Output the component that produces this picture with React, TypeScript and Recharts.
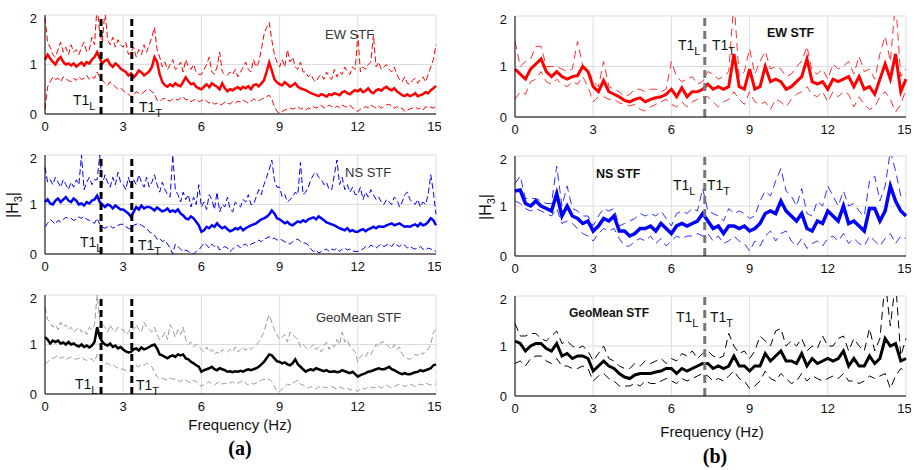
import React from "react";
import {
  LineChart,
  Line,
  XAxis,
  YAxis,
  CartesianGrid,
  ReferenceLine,
} from "recharts";

// (a) panels are sampled finer than (b)
const freqA = [
  0, 0.1, 0.2, 0.3, 0.4, 0.5, 0.6, 0.7, 0.8, 0.9,
  1, 1.1, 1.2, 1.3, 1.4, 1.5, 1.6, 1.7, 1.8, 1.9,
  2, 2.1, 2.2, 2.3, 2.4, 2.5, 2.6, 2.7, 2.8, 2.9,
  3, 3.1, 3.2, 3.3, 3.4, 3.5, 3.6, 3.7, 3.8, 3.9,
  4, 4.1, 4.2, 4.3, 4.4, 4.5, 4.6, 4.7, 4.8, 4.9,
  5, 5.1, 5.2, 5.3, 5.4, 5.5, 5.6, 5.7, 5.8, 5.9,
  6, 6.1, 6.2, 6.3, 6.4, 6.5, 6.6, 6.7, 6.8, 6.9,
  7, 7.1, 7.2, 7.3, 7.4, 7.5, 7.6, 7.7, 7.8, 7.9,
  8, 8.1, 8.2, 8.3, 8.4, 8.5, 8.6, 8.7, 8.8, 8.9,
  9, 9.1, 9.2, 9.3, 9.4, 9.5, 9.6, 9.7, 9.8, 9.9,
  10, 10.1, 10.2, 10.3, 10.4, 10.5, 10.6, 10.7, 10.8, 10.9,
  11, 11.1, 11.2, 11.3, 11.4, 11.5, 11.6, 11.7, 11.8, 11.9,
  12, 12.1, 12.2, 12.3, 12.4, 12.5, 12.6, 12.7, 12.8, 12.9,
  13, 13.1, 13.2, 13.3, 13.4, 13.5, 13.6, 13.7, 13.8, 13.9,
  14, 14.1, 14.2, 14.3, 14.4, 14.5, 14.6, 14.7, 14.8, 14.9,
  15,
];

const freqB = [
  0, 0.2, 0.4, 0.6, 0.8, 1, 1.2, 1.4, 1.6, 1.8,
  2, 2.2, 2.4, 2.6, 2.8, 3, 3.2, 3.4, 3.6, 3.8,
  4, 4.2, 4.4, 4.6, 4.8, 5, 5.2, 5.4, 5.6, 5.8,
  6, 6.2, 6.4, 6.6, 6.8, 7, 7.2, 7.4, 7.6, 7.8,
  8, 8.2, 8.4, 8.6, 8.8, 9, 9.2, 9.4, 9.6, 9.8,
  10, 10.2, 10.4, 10.6, 10.8, 11, 11.2, 11.4, 11.6, 11.8,
  12, 12.2, 12.4, 12.6, 12.8, 13, 13.2, 13.4, 13.6, 13.8,
  14, 14.2, 14.4, 14.6, 14.8, 15,
];

const xTicks = [0, 3, 6, 9, 12, 15];
const yTicks = [0, 1, 2];

// fundamental periods
const t1A = [2.15, 3.33];
const t1B = [7.28];

// (a) EW
const ewAMean = [
  1.10, 1.20, 1.12, 1.05, 1.00, 1.10, 1.15, 1.05, 1.00, 1.02,
  0.98, 1.02, 0.96, 1.00, 1.04, 0.98, 1.05, 1.02, 1.10, 1.15,
  1.25, 1.12, 1.02, 1.08, 1.10, 1.00, 0.95, 1.02, 0.98, 0.92,
  0.88, 0.85, 0.78, 0.82, 0.74, 0.80, 0.88, 0.84, 0.78, 0.82,
  0.86, 0.95, 1.15, 1.05, 0.80, 0.65, 0.58, 0.55, 0.60, 0.56,
  0.62, 0.58, 0.56, 0.65, 0.74, 0.66, 0.60, 0.62, 0.55, 0.52,
  0.50, 0.55, 0.60, 0.54, 0.62, 0.58, 0.55, 0.50, 0.62, 0.52,
  0.46, 0.50, 0.48, 0.52, 0.54, 0.50, 0.55, 0.52, 0.56, 0.50,
  0.58, 0.60, 0.56, 0.62, 0.68, 0.85, 1.04, 0.88, 0.70, 0.64,
  0.60, 0.58, 0.64, 0.60, 0.55, 0.58, 0.62, 0.55, 0.52, 0.50,
  0.48, 0.45, 0.42, 0.40, 0.38, 0.36, 0.40, 0.38, 0.35, 0.40,
  0.38, 0.42, 0.40, 0.38, 0.44, 0.46, 0.42, 0.40, 0.45, 0.48,
  0.46, 0.50, 0.44, 0.47, 0.52, 0.45, 0.42, 0.48, 0.50, 0.47,
  0.52, 0.55, 0.50, 0.48, 0.52, 0.46, 0.42, 0.38, 0.36, 0.40,
  0.36, 0.38, 0.42, 0.36, 0.38, 0.40, 0.44, 0.42, 0.48, 0.52,
  0.57,
];
const ewAHi = [
  1.95, 1.45, 1.35, 1.20, 1.15, 1.30, 1.45, 1.25, 1.35, 1.20,
  1.40, 1.25, 1.30, 1.20, 1.35, 1.45, 1.25, 1.30, 1.55, 1.40,
  2.20, 1.60, 1.45, 2.10, 1.50, 1.40, 1.55, 1.35, 1.50, 1.40,
  1.35, 1.45, 1.20, 1.25, 1.35, 1.15, 1.30, 1.20, 1.40, 1.25,
  1.40, 1.55, 1.75, 1.30, 1.15, 0.95, 1.05, 0.90, 1.00, 1.10,
  0.90, 0.95, 1.05, 0.85, 1.10, 0.95, 0.90, 1.00, 0.85, 0.80,
  0.80, 0.90, 1.00, 1.15, 0.85, 0.80, 0.95, 1.25, 0.85, 0.80,
  0.78, 0.85, 0.80, 0.90, 0.75, 0.85, 0.95, 1.05, 0.90, 0.85,
  1.10, 0.95, 1.05, 1.30, 1.60, 1.75, 1.85, 1.50, 1.20, 1.05,
  0.95, 1.10, 0.95, 1.30, 1.05, 1.15, 0.95, 0.90, 1.05, 0.85,
  0.85, 0.75, 0.80, 0.70, 0.65, 0.75, 0.80, 0.70, 0.85, 0.75,
  0.70, 0.90, 0.75, 0.85, 0.80, 0.95, 0.85, 0.80, 0.95, 0.90,
  1.60, 0.85, 0.95, 0.90, 1.00, 1.05, 1.60, 0.95, 1.05, 0.90,
  0.95, 1.00, 0.90, 0.85, 0.95, 0.80, 0.70, 0.65, 0.75, 0.62,
  0.60, 0.68, 0.72, 0.62, 0.70, 0.75, 0.65, 0.80, 0.95, 1.10,
  1.40,
];
const ewALo = [
  0.10, 0.55, 0.65, 0.75, 0.70, 0.72, 0.65, 0.75, 0.70, 0.68,
  0.65, 0.72, 0.68, 0.75, 0.70, 0.72, 0.78, 0.70, 0.75, 0.72,
  0.85, 0.75, 0.68, 0.62, 0.58, 0.65, 0.60, 0.55, 0.50, 0.52,
  0.48, 0.42, 0.40, 0.35, 0.38, 0.45, 0.42, 0.40, 0.45, 0.48,
  0.50, 0.45, 0.42, 0.28, 0.25, 0.30, 0.32, 0.28, 0.26, 0.30,
  0.30, 0.28, 0.32, 0.35, 0.28, 0.30, 0.25, 0.28, 0.30, 0.25,
  0.27, 0.30, 0.26, 0.22, 0.25, 0.20, 0.22, 0.18, 0.20, 0.24,
  0.22, 0.20, 0.25, 0.22, 0.26, 0.24, 0.28, 0.25, 0.22, 0.26,
  0.30, 0.28, 0.26, 0.30, 0.32, 0.35, 0.38, 0.30, 0.15, 0.05,
  0.02, 0.05, 0.08, 0.10, 0.12, 0.10, 0.12, 0.15, 0.10, 0.12,
  0.08, 0.12, 0.10, 0.15, 0.12, 0.14, 0.18, 0.12, 0.15, 0.18,
  0.15, 0.12, 0.16, 0.12, 0.18, 0.15, 0.14, 0.18, 0.12, 0.10,
  0.05, 0.10, 0.12, 0.15, 0.12, 0.18, 0.15, 0.12, 0.16, 0.12,
  0.15, 0.18, 0.20, 0.15, 0.12, 0.15, 0.10, 0.12, 0.05, 0.08,
  0.10, 0.12, 0.15, 0.10, 0.12, 0.08, 0.15, 0.12, 0.14, 0.12,
  0.15,
];

// (a) NS
const nsAMean = [
  1.05, 1.10, 1.02, 1.00, 1.08, 1.12, 1.05, 1.10, 1.15, 1.08,
  1.05, 1.12, 1.08, 1.00, 1.02, 0.98, 1.05, 1.02, 1.08, 1.10,
  1.18, 1.05, 1.00, 0.95, 1.00, 0.98, 0.92, 0.98, 0.94, 0.90,
  0.90, 0.86, 0.82, 0.75, 0.85, 0.95, 0.90, 0.98, 0.92, 0.95,
  0.95, 0.92, 0.88, 0.94, 0.90, 0.86, 0.88, 0.92, 0.85, 0.88,
  0.85, 0.90, 0.82, 0.78, 0.72, 0.70, 0.76, 0.72, 0.65, 0.58,
  0.45, 0.48, 0.55, 0.52, 0.58, 0.55, 0.62, 0.56, 0.52, 0.55,
  0.50, 0.46, 0.48, 0.52, 0.50, 0.54, 0.48, 0.52, 0.55, 0.58,
  0.60, 0.62, 0.66, 0.70, 0.72, 0.75, 0.80, 0.88, 0.82, 0.72,
  0.70, 0.66, 0.62, 0.65, 0.60, 0.58, 0.62, 0.66, 0.64, 0.68,
  0.65, 0.70, 0.72, 0.74, 0.70, 0.76, 0.72, 0.68, 0.64, 0.62,
  0.60, 0.58, 0.55, 0.52, 0.50, 0.48, 0.52, 0.46, 0.48, 0.45,
  0.45, 0.48, 0.50, 0.46, 0.50, 0.52, 0.55, 0.52, 0.56, 0.55,
  0.55, 0.58, 0.60, 0.62, 0.58, 0.60, 0.62, 0.58, 0.55, 0.56,
  0.55, 0.58, 0.60, 0.56, 0.62, 0.58, 0.60, 0.65, 0.72, 0.68,
  0.58,
];
const nsAHi = [
  1.75, 1.45, 1.50, 1.40, 1.55, 1.45, 1.35, 1.50, 1.40, 1.30,
  1.45, 1.35, 1.50, 1.40, 2.00, 1.30, 1.45, 1.55, 1.40, 1.50,
  1.50, 2.00, 1.40, 1.60, 1.45, 1.35, 1.55, 1.40, 1.65, 1.45,
  1.40, 1.30, 1.55, 1.35, 1.50, 1.40, 1.60, 1.45, 1.35, 1.55,
  1.35, 1.45, 1.60, 1.40, 1.25, 1.45, 1.30, 1.20, 1.15, 2.00,
  1.30, 1.20, 1.05, 1.25, 1.10, 1.20, 0.95, 1.15, 1.00, 1.40,
  0.95, 1.05, 0.90, 1.20, 1.10, 0.90, 1.25, 0.85, 1.00, 0.95,
  1.15, 0.90, 0.85, 1.05, 1.00, 0.95, 1.10, 1.05, 1.20, 1.00,
  1.00, 1.15, 1.30, 1.20, 1.40, 1.55, 1.70, 1.90, 1.50, 1.35,
  1.35, 1.15, 1.20, 1.05, 1.10, 1.15, 1.25, 1.20, 1.85, 1.20,
  1.25, 1.35, 1.50, 1.60, 1.65, 1.55, 1.50, 1.40, 1.45, 1.30,
  1.30, 1.60, 1.90, 1.40, 1.55, 1.30, 1.40, 1.25, 1.35, 1.20,
  1.20, 1.35, 1.10, 1.25, 1.15, 1.30, 1.20, 1.10, 1.15, 1.05,
  1.00, 1.10, 1.05, 1.00, 1.15, 1.10, 0.95, 1.05, 1.20, 1.25,
  1.10, 1.05, 1.00, 1.10, 0.95, 1.05, 1.00, 1.20, 1.60, 1.25,
  0.80,
];
const nsALo = [
  0.55, 0.62, 0.70, 0.65, 0.60, 0.68, 0.65, 0.70, 0.74, 0.72,
  0.72, 0.68, 0.70, 0.75, 0.72, 0.76, 0.70, 0.68, 0.65, 0.62,
  0.72, 0.60, 0.55, 0.52, 0.55, 0.58, 0.52, 0.55, 0.58, 0.60,
  0.60, 0.55, 0.52, 0.50, 0.58, 0.60, 0.62, 0.58, 0.55, 0.52,
  0.45, 0.42, 0.38, 0.30, 0.32, 0.25, 0.28, 0.20, 0.12, 0.00,
  0.20, 0.15, 0.10, 0.05, 0.08, 0.05, 0.02, 0.00, 0.05, 0.08,
  0.15, 0.22, 0.18, 0.12, 0.20, 0.15, 0.18, 0.08, 0.12, 0.15,
  0.12, 0.05, 0.10, 0.15, 0.18, 0.12, 0.18, 0.20, 0.15, 0.20,
  0.22, 0.25, 0.28, 0.25, 0.30, 0.32, 0.35, 0.30, 0.32, 0.28,
  0.30, 0.28, 0.25, 0.22, 0.20, 0.25, 0.28, 0.30, 0.25, 0.22,
  0.22, 0.18, 0.10, 0.05, 0.08, 0.02, 0.05, 0.08, 0.10, 0.05,
  0.10, 0.08, 0.12, 0.05, 0.10, 0.12, 0.08, 0.10, 0.06, 0.05,
  0.05, 0.08, 0.10, 0.15, 0.12, 0.18, 0.15, 0.12, 0.16, 0.20,
  0.15, 0.18, 0.20, 0.15, 0.22, 0.18, 0.15, 0.20, 0.18, 0.12,
  0.15, 0.12, 0.10, 0.12, 0.15, 0.10, 0.08, 0.12, 0.10, 0.08,
  0.05,
];

// (a) GeoMean
const geoAMean = [
  1.15, 1.10, 1.02, 1.08, 1.05, 1.08, 1.02, 1.04, 1.00, 1.05,
  1.00, 1.02, 0.98, 0.96, 1.00, 0.95, 0.98, 0.94, 0.98, 1.05,
  1.35, 1.15, 1.05, 1.00, 0.98, 1.02, 0.95, 0.98, 0.92, 0.95,
  0.90, 0.86, 0.84, 0.85, 0.90, 0.92, 0.88, 0.94, 0.90, 0.92,
  0.95, 0.98, 1.00, 0.92, 0.80, 0.78, 0.75, 0.72, 0.76, 0.78,
  0.75, 0.80, 0.78, 0.80, 0.72, 0.70, 0.65, 0.62, 0.58, 0.55,
  0.45, 0.48, 0.50, 0.52, 0.55, 0.50, 0.48, 0.52, 0.50, 0.48,
  0.45, 0.46, 0.44, 0.46, 0.45, 0.47, 0.45, 0.48, 0.50, 0.48,
  0.50, 0.52, 0.55, 0.60, 0.65, 0.72, 0.80, 0.78, 0.72, 0.66,
  0.65, 0.62, 0.64, 0.60, 0.58, 0.62, 0.70, 0.60, 0.55, 0.50,
  0.45, 0.48, 0.50, 0.48, 0.52, 0.50, 0.48, 0.46, 0.48, 0.45,
  0.45, 0.46, 0.44, 0.45, 0.48, 0.46, 0.44, 0.42, 0.45, 0.40,
  0.35, 0.38, 0.40, 0.42, 0.45, 0.46, 0.48, 0.50, 0.52, 0.50,
  0.50, 0.52, 0.55, 0.50, 0.48, 0.45, 0.42, 0.40, 0.42, 0.40,
  0.40, 0.42, 0.44, 0.45, 0.48, 0.46, 0.48, 0.50, 0.52, 0.58,
  0.60,
];
const geoAHi = [
  1.75, 1.50, 1.45, 1.35, 1.40, 1.30, 1.45, 1.35, 1.40, 1.30,
  1.35, 1.25, 1.30, 1.35, 1.25, 1.30, 1.20, 1.35, 1.30, 1.40,
  2.00, 1.50, 1.40, 1.35, 1.25, 1.40, 1.30, 1.25, 1.35, 1.30,
  1.30, 1.20, 1.25, 1.35, 1.30, 1.40, 1.30, 1.25, 1.45, 1.35,
  1.30, 1.25, 1.35, 1.20, 1.10, 1.15, 1.25, 1.10, 1.40, 1.30,
  1.15, 1.30, 1.20, 1.35, 1.10, 1.00, 1.05, 0.95, 1.00, 0.95,
  0.90, 0.85, 0.95, 0.85, 0.90, 0.80, 0.85, 0.80, 0.90, 0.85,
  0.85, 0.90, 0.85, 0.95, 0.85, 0.90, 0.95, 0.88, 0.95, 0.90,
  0.95, 1.00, 1.05, 1.15, 1.25, 1.45, 1.60, 1.45, 1.30, 1.20,
  1.10, 1.15, 1.20, 1.05, 1.25, 1.20, 1.15, 1.10, 0.95, 1.00,
  0.95, 0.90, 0.95, 1.00, 0.90, 0.95, 0.85, 0.95, 1.05, 0.90,
  1.00, 0.95, 1.10, 1.00, 1.25, 1.05, 1.10, 0.95, 0.90, 0.85,
  0.65, 0.75, 0.80, 0.75, 0.85, 0.80, 0.90, 1.00, 0.95, 1.05,
  1.05, 1.00, 0.95, 0.90, 1.00, 0.90, 0.95, 0.80, 0.75, 0.72,
  0.70, 0.75, 0.80, 0.78, 0.85, 0.80, 0.88, 0.90, 1.00, 1.25,
  1.30,
];
const geoALo = [
  0.60, 0.65, 0.70, 0.72, 0.75, 0.78, 0.72, 0.75, 0.70, 0.72,
  0.75, 0.72, 0.70, 0.72, 0.75, 0.70, 0.68, 0.72, 0.70, 0.65,
  0.80, 0.72, 0.65, 0.60, 0.62, 0.58, 0.60, 0.55, 0.52, 0.50,
  0.50, 0.48, 0.45, 0.50, 0.55, 0.58, 0.55, 0.60, 0.58, 0.62,
  0.60, 0.55, 0.45, 0.35, 0.30, 0.32, 0.30, 0.28, 0.32, 0.30,
  0.30, 0.28, 0.25, 0.30, 0.28, 0.25, 0.22, 0.28, 0.25, 0.22,
  0.15, 0.20, 0.22, 0.25, 0.20, 0.18, 0.22, 0.25, 0.20, 0.22,
  0.20, 0.22, 0.25, 0.20, 0.22, 0.25, 0.28, 0.22, 0.18, 0.22,
  0.20, 0.22, 0.25, 0.28, 0.30, 0.28, 0.30, 0.25, 0.15, 0.05,
  0.05, 0.10, 0.15, 0.20, 0.18, 0.22, 0.25, 0.28, 0.20, 0.18,
  0.15, 0.12, 0.15, 0.12, 0.10, 0.15, 0.12, 0.14, 0.12, 0.15,
  0.15, 0.12, 0.10, 0.14, 0.12, 0.10, 0.12, 0.08, 0.10, 0.08,
  0.05, 0.10, 0.12, 0.10, 0.15, 0.12, 0.14, 0.12, 0.15, 0.12,
  0.15, 0.18, 0.15, 0.12, 0.15, 0.18, 0.20, 0.18, 0.15, 0.18,
  0.20, 0.18, 0.15, 0.18, 0.20, 0.18, 0.22, 0.20, 0.18, 0.20,
  0.20,
];

// (b) EW
const ewBMean = [
  0.95, 0.85, 0.75, 0.95, 1.05, 1.15, 0.90, 0.80, 0.90, 0.80,
  0.75, 0.80, 0.82, 1.00, 0.90, 0.60, 0.50, 0.72, 0.50, 0.45,
  0.40, 0.33, 0.30, 0.35, 0.38, 0.30, 0.35, 0.38, 0.40, 0.45,
  0.55, 0.40, 0.58, 0.40, 0.50, 0.50, 0.55, 0.65, 0.55, 0.60,
  0.55, 0.60, 1.25, 0.60, 0.55, 0.95, 0.55, 0.60, 1.00, 0.70,
  0.75, 0.70, 0.55, 0.60, 0.70, 0.80, 1.15, 0.70, 0.65, 0.70,
  0.55, 0.75, 0.70, 0.75, 0.80, 0.60, 0.80, 0.55, 0.60, 0.45,
  0.75, 1.05, 0.75, 1.25, 0.50, 0.75,
];
const ewBHi = [
  1.50, 1.00, 1.10, 1.15, 1.40, 1.40, 1.00, 1.00, 1.00, 0.95,
  0.90, 0.95, 1.50, 1.00, 0.95, 0.70, 0.60, 1.10, 0.60, 0.55,
  0.50, 0.40, 0.45, 0.55, 0.55, 0.50, 0.55, 0.55, 0.50, 0.55,
  1.10, 0.80, 0.70, 0.75, 0.80, 0.65, 0.70, 0.90, 0.85, 0.75,
  0.80, 0.90, 2.30, 0.80, 0.90, 1.35, 0.85, 1.10, 1.30, 0.95,
  1.00, 0.95, 0.80, 0.85, 1.00, 1.10, 1.40, 0.90, 0.85, 0.95,
  0.75, 1.05, 0.95, 1.00, 1.10, 0.85, 1.20, 0.90, 0.95, 0.75,
  1.25, 1.60, 1.10, 2.30, 0.80, 0.95,
];
const ewBLo = [
  0.35, 0.50, 0.45, 0.70, 0.75, 0.90, 0.70, 0.65, 0.75, 0.65,
  0.60, 0.70, 0.65, 0.80, 0.60, 0.30, 0.40, 0.40, 0.35, 0.35,
  0.28, 0.25, 0.22, 0.25, 0.15, 0.12, 0.20, 0.25, 0.30, 0.35,
  0.25, 0.20, 0.30, 0.20, 0.30, 0.35, 0.40, 0.40, 0.30, 0.20,
  0.30, 0.35, 0.50, 0.35, 0.25, 0.50, 0.30, 0.25, 0.30, 0.15,
  0.35, 0.30, 0.20, 0.35, 0.45, 0.50, 0.60, 0.45, 0.40, 0.50,
  0.30, 0.50, 0.40, 0.50, 0.45, 0.20, 0.40, 0.25, 0.15, 0.20,
  0.40, 0.50, 0.35, 0.10, 0.25, 0.55,
];

// (b) NS
const nsBMean = [
  1.30, 1.32, 1.05, 1.00, 1.10, 1.00, 0.95, 0.90, 1.25, 0.80,
  1.00, 0.80, 0.75, 0.65, 0.70, 0.50, 0.60, 0.75, 0.70, 0.80,
  0.50, 0.50, 0.40, 0.45, 0.55, 0.55, 0.60, 0.50, 0.65, 0.55,
  0.45, 0.60, 0.65, 0.60, 0.65, 0.70, 0.85, 0.70, 0.55, 0.60,
  0.45, 0.60, 0.60, 0.55, 0.60, 0.50, 0.55, 0.65, 0.85, 0.90,
  0.85, 1.10, 0.90, 0.80, 0.70, 0.85, 0.55, 0.50, 0.70, 0.65,
  0.90, 0.80, 0.70, 1.00, 0.65, 0.70, 0.60, 0.50, 0.95, 0.95,
  0.70, 0.90, 1.40, 1.10, 0.90, 0.80,
];
const nsBHi = [
  1.45, 1.60, 1.15, 1.15, 1.15, 1.10, 1.05, 1.05, 1.80, 1.00,
  1.40, 0.95, 0.90, 0.80, 0.80, 0.60, 0.80, 0.95, 0.90, 0.95,
  0.60, 0.65, 0.70, 0.75, 0.85, 0.80, 0.85, 0.80, 0.90, 0.75,
  0.60, 0.85, 0.90, 0.85, 0.95, 0.90, 1.35, 0.90, 0.85, 0.80,
  0.70, 0.95, 0.85, 0.90, 0.85, 0.75, 0.80, 1.10, 1.30, 1.20,
  1.50, 1.75, 1.30, 1.20, 1.00, 1.35, 0.85, 0.80, 1.10, 1.00,
  1.40, 1.20, 1.00, 1.30, 1.00, 1.05, 0.90, 0.80, 1.50, 1.60,
  1.10, 1.40, 2.10, 1.70, 1.20, 1.25,
];
const nsBLo = [
  1.10, 1.05, 0.95, 0.90, 0.95, 0.90, 0.85, 0.80, 0.95, 0.65,
  0.70, 0.65, 0.55, 0.45, 0.40, 0.30, 0.45, 0.55, 0.50, 0.55,
  0.35, 0.20, 0.20, 0.30, 0.35, 0.30, 0.40, 0.25, 0.35, 0.20,
  0.30, 0.40, 0.35, 0.40, 0.40, 0.45, 0.40, 0.45, 0.30, 0.40,
  0.25, 0.30, 0.40, 0.30, 0.25, 0.10, 0.30, 0.20, 0.40, 0.50,
  0.30, 0.45, 0.50, 0.30, 0.20, 0.35, 0.15, 0.25, 0.30, 0.20,
  0.35, 0.40, 0.30, 0.45, 0.25, 0.35, 0.25, 0.20, 0.40, 0.30,
  0.20, 0.35, 0.45, 0.25, 0.40, 0.35,
];

// (b) GeoMean
const geoBMean = [
  1.10, 1.05, 0.90, 1.00, 1.05, 1.05, 0.95, 0.90, 1.05, 0.80,
  0.85, 0.75, 0.80, 0.80, 0.75, 0.50, 0.60, 0.70, 0.60, 0.55,
  0.45, 0.38, 0.35, 0.42, 0.45, 0.45, 0.45, 0.48, 0.50, 0.55,
  0.55, 0.45, 0.55, 0.50, 0.55, 0.60, 0.65, 0.65, 0.55, 0.60,
  0.55, 0.60, 0.80, 0.60, 0.60, 0.50, 0.60, 0.60, 0.85, 0.70,
  0.80, 0.90, 0.70, 0.70, 0.65, 0.85, 0.60, 0.75, 0.65, 0.70,
  0.75, 0.70, 0.75, 0.90, 0.60, 0.75, 0.60, 0.60, 0.80, 0.65,
  0.75, 1.15, 1.00, 1.05, 0.70, 0.75,
];
const geoBHi = [
  1.45, 1.20, 1.20, 1.25, 1.25, 1.15, 1.10, 1.20, 1.30, 1.05,
  1.10, 1.00, 0.95, 1.00, 0.90, 0.70, 0.85, 1.00, 0.75, 0.70,
  0.60, 0.55, 0.55, 0.65, 0.60, 0.70, 0.65, 0.70, 0.75, 0.65,
  0.75, 0.70, 0.85, 0.80, 0.90, 0.75, 0.85, 0.90, 0.80, 0.75,
  0.80, 1.25, 1.00, 0.85, 0.90, 0.75, 0.90, 1.20, 1.10, 1.00,
  1.30, 1.35, 1.00, 1.10, 1.00, 1.15, 0.90, 1.00, 0.95, 1.20,
  1.00, 1.00, 1.15, 1.20, 0.90, 1.15, 1.00, 0.90, 1.35, 0.90,
  1.15, 2.30, 1.40, 2.30, 0.80, 1.15,
];
const geoBLo = [
  0.65, 0.70, 0.60, 0.75, 0.80, 0.80, 0.70, 0.65, 0.75, 0.60,
  0.60, 0.55, 0.55, 0.60, 0.55, 0.30, 0.40, 0.45, 0.35, 0.30,
  0.20, 0.20, 0.20, 0.25, 0.20, 0.30, 0.25, 0.25, 0.30, 0.35,
  0.30, 0.25, 0.35, 0.30, 0.35, 0.40, 0.45, 0.40, 0.30, 0.35,
  0.30, 0.40, 0.50, 0.35, 0.30, 0.15, 0.20, 0.30, 0.50, 0.35,
  0.30, 0.45, 0.35, 0.25, 0.30, 0.45, 0.30, 0.40, 0.35, 0.30,
  0.35, 0.40, 0.35, 0.45, 0.30, 0.30, 0.25, 0.30, 0.40, 0.35,
  0.40, 0.45, 0.15, 0.40, 0.55, 0.50,
];

const FONT = "'Liberation Sans', Arial, sans-serif";

function rows(freq: number[], mean: number[], hi: number[], lo: number[]) {
  return freq.map((f, i) => ({ f, mean: mean[i], hi: hi[i], lo: lo[i] }));
}

interface PanelProps {
  left: number;
  top: number;
  height: number;
  data: { f: number; mean: number; hi: number; lo: number }[];
  meanColor: string;
  bandColor: string;
  meanWidth: number;
  bandDash: string;
  t1: number[];
  t1Color: string;
  t1Dash: string;
}

function Panel(p: PanelProps) {
  return (
    <div style={{ position: "absolute", left: p.left, top: p.top }}>
      <LineChart
        width={426}
        height={p.height}
        data={p.data}
        margin={{ top: 5, right: 5, left: 0, bottom: 0 }}
      >
        <CartesianGrid stroke="#dcdcdc" strokeWidth={1} />
        <XAxis
          dataKey="f"
          type="number"
          domain={[0, 15]}
          ticks={xTicks}
          height={22}
          stroke="#000"
          tickLine={false}
          tick={{ fontSize: 13, fill: "#111", fontFamily: FONT }}
        />
        <YAxis
          type="number"
          domain={[0, 2]}
          ticks={yTicks}
          width={30}
          allowDataOverflow
          stroke="#000"
          tickLine={false}
          tick={{ fontSize: 13, fill: "#111", fontFamily: FONT }}
        />
        <Line
          dataKey="hi"
          type="linear"
          stroke={p.bandColor}
          strokeWidth={1}
          strokeDasharray={p.bandDash}
          dot={false}
          isAnimationActive={false}
        />
        <Line
          dataKey="lo"
          type="linear"
          stroke={p.bandColor}
          strokeWidth={1}
          strokeDasharray={p.bandDash}
          dot={false}
          isAnimationActive={false}
        />
        <Line
          dataKey="mean"
          type="linear"
          stroke={p.meanColor}
          strokeWidth={p.meanWidth}
          dot={false}
          isAnimationActive={false}
        />
        {p.t1.map((x) => (
          <ReferenceLine
            key={x}
            x={x}
            stroke={p.t1Color}
            strokeWidth={3}
            strokeDasharray={p.t1Dash}
          />
        ))}
      </LineChart>
    </div>
  );
}

function T1({ x, y, sub, size = 14 }: { x: number; y: number; sub: string; size?: number }) {
  return (
    <text x={x} y={y} fontSize={size} fill="#111">
      T1
      <tspan dy={5} fontSize={size - 3}>
        {sub}
      </tspan>
    </text>
  );
}

export default function App() {
  return (
    <div
      style={{
        position: "absolute",
        left: 0,
        top: 0,
        width: 917,
        height: 470,
        background: "#fff",
        fontFamily: FONT,
      }}
    >
      <Panel left={15} top={10} height={126} data={rows(freqA, ewAMean, ewAHi, ewALo)}
        meanColor="#ff0000" bandColor="#ff0000" meanWidth={2.5} bandDash="6 3"
        t1={t1A} t1Color="#000" t1Dash="7 4" />
      <Panel left={15} top={150} height={126} data={rows(freqA, nsAMean, nsAHi, nsALo)}
        meanColor="#0000ff" bandColor="#0000ff" meanWidth={2.5} bandDash="6 3"
        t1={t1A} t1Color="#000" t1Dash="7 4" />
      <Panel left={15} top={290} height={126} data={rows(freqA, geoAMean, geoAHi, geoALo)}
        meanColor="#000" bandColor="#999" meanWidth={2.5} bandDash="6 3"
        t1={t1A} t1Color="#000" t1Dash="7 4" />

      <Panel left={485} top={11} height={128} data={rows(freqB, ewBMean, ewBHi, ewBLo)}
        meanColor="#ff0000" bandColor="#ff3030" meanWidth={3} bandDash="8 5"
        t1={t1B} t1Color="#777" t1Dash="8 5" />
      <Panel left={485} top={151} height={127} data={rows(freqB, nsBMean, nsBHi, nsBLo)}
        meanColor="#0000ff" bandColor="#3030ff" meanWidth={3.5} bandDash="8 5"
        t1={t1B} t1Color="#777" t1Dash="8 5" />
      <Panel left={485} top={291} height={127} data={rows(freqB, geoBMean, geoBHi, geoBLo)}
        meanColor="#000" bandColor="#000" meanWidth={3} bandDash="8 5"
        t1={t1B} t1Color="#777" t1Dash="8 5" />

      <svg
        width={917}
        height={470}
        style={{ position: "absolute", left: 0, top: 0, pointerEvents: "none" }}
        fontFamily={FONT}
      >
        <text x={325} y={39} fontSize={13} fill="#333">EW STF</text>
        <text x={345} y={177} fontSize={13} fill="#333">NS STF</text>
        <text x={316} y={322} fontSize={13} fill="#333">GeoMean STF</text>

        <text x={767} y={37} fontSize={12.5} fontWeight="bold" fill="#111">EW STF</text>
        <text x={596} y={178} fontSize={12.5} fontWeight="bold" fill="#111">NS STF</text>
        <text x={569} y={317} fontSize={12} fontWeight="bold" fill="#111">GeoMean STF</text>

        <T1 x={73} y={105} sub="L" />
        <T1 x={139} y={112} sub="T" />
        <T1 x={80} y={247} sub="L" />
        <T1 x={138} y={250} sub="T" />
        <T1 x={75} y={389} sub="L" />
        <T1 x={136} y={390} sub="T" />

        <T1 x={678} y={50} sub="L" />
        <T1 x={712} y={50} sub="T" />
        <T1 x={673} y={190} sub="L" />
        <T1 x={707} y={190} sub="T" />
        <T1 x={676} y={322} sub="L" />
        <T1 x={710} y={322} sub="T" />

        <text transform="translate(18,205) rotate(-90)" textAnchor="middle" fontSize={16} fill="#111">
          |H<tspan dy={4} fontSize={11}>3</tspan><tspan dy={-4}>|</tspan>
        </text>
        <text transform="translate(491,207) rotate(-90)" textAnchor="middle" fontSize={16} fill="#111">
          |H<tspan dy={4} fontSize={11}>3</tspan><tspan dy={-4}>|</tspan>
        </text>

        <text x={240} y={430} textAnchor="middle" fontSize={15} fill="#111">Frequency (Hz)</text>
        <text x={712} y={437} textAnchor="middle" fontSize={15} fill="#111">Frequency (Hz)</text>
        <text x={240} y={455} textAnchor="middle" fontSize={20} fontWeight="bold"
          fontFamily="'Liberation Serif', 'Times New Roman', serif" fill="#000">(a)</text>
        <text x={715} y={463} textAnchor="middle" fontSize={20} fontWeight="bold"
          fontFamily="'Liberation Serif', 'Times New Roman', serif" fill="#000">(b)</text>
      </svg>
    </div>
  );
}
